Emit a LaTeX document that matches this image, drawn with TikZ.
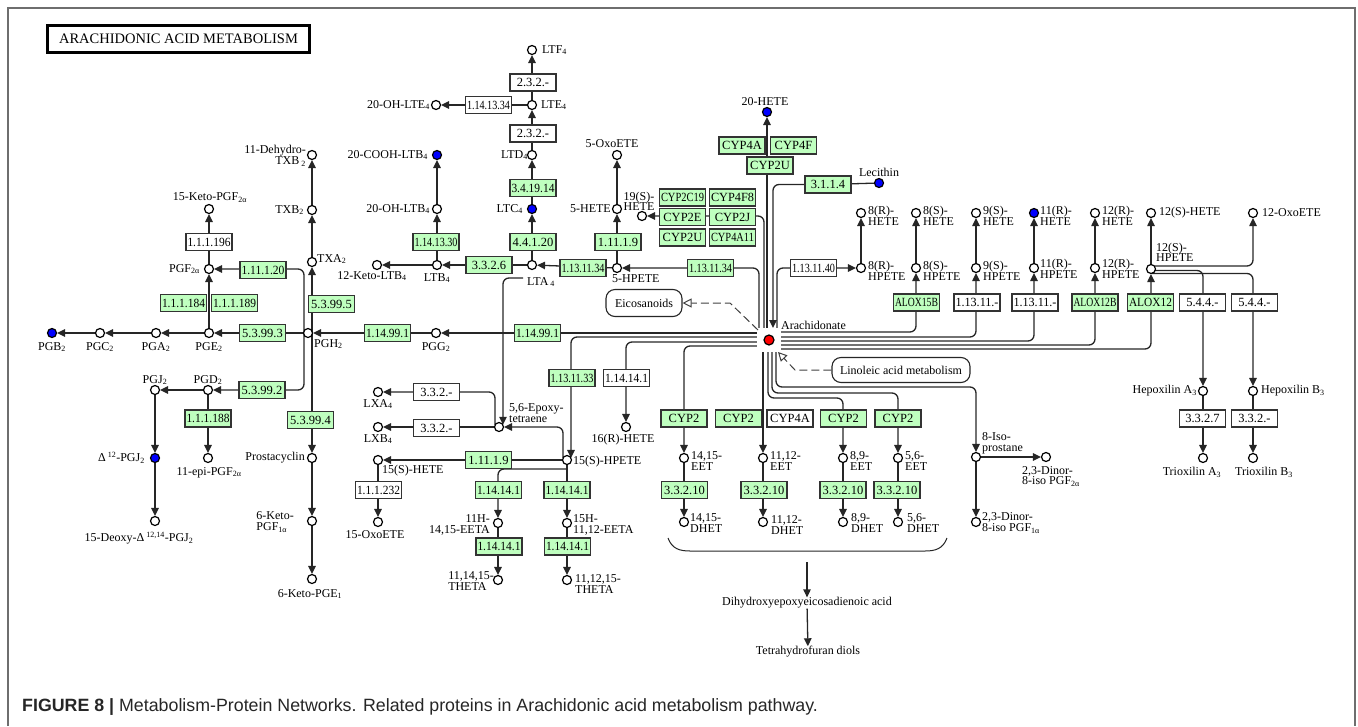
\documentclass[tikz,border=0pt]{standalone}
\usepackage{fontspec}
\setmainfont{Liberation Serif}
\newfontfamily\capfont{Liberation Sans}
\usetikzlibrary{arrows.meta,calc,backgrounds}
\definecolor{kgreen}{RGB}{191,255,191}
\definecolor{kblue}{RGB}{0,0,255}
\definecolor{kred}{RGB}{255,0,0}
\definecolor{framec}{RGB}{110,110,110}
\newsavebox\ezbox
\newcommand\ez[1]{\sbox\ezbox{#1}\ifdim\wd\ezbox>43pt\resizebox{43pt}{\ht\ezbox}{\usebox\ezbox}\else\usebox\ezbox\fi}
\newcommand\lblf{\fontsize{12}{10.8}\selectfont}
\newcommand\enzf{\fontsize{12.5}{12.5}\selectfont}
\newcommand\sbs[1]{\textsubscript{#1}}
\newcommand\sps[1]{\textsuperscript{#1}}
\tikzset{
 cpd/.style={circle, draw=black, line width=1.2pt, fill=white, minimum size=9pt, inner sep=0pt},
 cpdb/.style={cpd, fill=kblue},
 lab/.style={inner sep=0pt, font=\lblf, align=center},
 enz/.style={draw=black!80, line width=1.1pt, fill=kgreen, minimum width=46pt, minimum height=17pt, inner sep=0pt, font=\enzf},
 enzw/.style={enz, fill=white},
 conn/.style={draw=black!85, line width=1.3pt},
 arr/.style={conn, -{Triangle[length=8pt,width=7.5pt]}},
 rc/.style={rounded corners=6pt},
 dconn/.style={draw=black!75, line width=1pt, dash pattern=on 8pt off 4pt, -{Triangle[open,length=9pt,width=9pt]}},
 mapbox/.style={draw=black!85, line width=1.1pt, rounded corners=9pt, font=\lblf, inner sep=0pt},
}
\begin{document}
\begin{tikzpicture}[x=1pt,y=-1pt]
\useasboundingbox (0,0) rectangle (1358,726);
\draw[framec, line width=1.4pt] (8,726) -- (8,8) -- (1355,8) -- (1355,726);
\node[draw, line width=2.2pt, minimum width=262pt, minimum height=27pt, inner sep=0pt, font=\fontsize{14.5}{14.5}\selectfont] (title) at (178.5,39) {ARACHIDONIC ACID METABOLISM};
\node[anchor=west, inner sep=0pt, text=black!85, font=\capfont\fontsize{17.8}{17.8}\selectfont] (cap) at (22,707) {\textbf{FIGURE 8 |} Metabolism-Protein Networks. Related proteins in Arachidonic acid metabolism pathway.};

% ---------- compounds ----------
\node[cpd] (dtxb) at (312,155) {};
\node[cpd] (txb) at (312,210) {};
\node[cpd] (txa) at (312,262) {};
\node[cpd] (kpgf) at (209,209) {};
\node[cpd] (pgf) at (209,269) {};
\node[cpd] (pge) at (209,333) {};
\node[cpd] (pga) at (156,333) {};
\node[cpd] (pgc) at (100,333) {};
\node[cpdb] (pgb) at (52,333) {};
\node[cpd] (pgh) at (308,333) {};
\node[cpd] (pgd) at (208,390) {};
\node[cpd] (pgj) at (155,390) {};
\node[cpdb] (dpgj) at (155,458) {};
\node[cpd] (ddpgj) at (155,521) {};
\node[cpd] (epgf) at (208,458) {};
\node[cpd] (pgi) at (312,458) {};
\node[cpd] (kpgfa) at (312,521) {};
\node[cpd] (kpge) at (312,579) {};
\node[cpd] (pgg) at (436,333) {};
\node[cpd] (ltf) at (532,50) {};
\node[cpd] (lte) at (532,105) {};
\node[cpd] (ohlte) at (436,105) {};
\node[cpd] (ltd) at (532,155) {};
\node[cpdb] (ltc) at (532,209) {};
\node[cpdb] (cooh) at (437,155) {};
\node[cpd] (ohltb) at (437,209) {};
\node[cpd] (ltb) at (437,265) {};
\node[cpd] (kltb) at (377,265) {};
\node[cpd] (lta) at (532,265) {};
\node[cpd] (oxof) at (617,155) {};
\node[cpd] (hetef) at (617,209) {};
\node[cpd] (hpetef) at (617,268) {};
\node[cpd] (hetes) at (642,216) {};
\node[cpdb] (hetet) at (767,112) {};
\node[cpdb] (lec) at (879,183) {};
\node[cpd] (epox) at (499,427) {};
\node[cpd] (lxa) at (378,392) {};
\node[cpd] (lxb) at (378,427) {};
\node[cpd] (hpeteo) at (567,460) {};
\node[cpd] (heteo) at (378,460) {};
\node[cpd] (oxoo) at (378,522) {};
\node[cpd] (hetex) at (626,427) {};
\node[cpd] (eetaa) at (498,523) {};
\node[cpd] (eetab) at (567,523) {};
\node[cpd] (thetaa) at (498,580) {};
\node[cpd] (thetab) at (567,580) {};
\node[cpd] (hete8r) at (861,213) {};
\node[cpd] (hpete8r) at (861,268) {};
\node[cpd] (hete8s) at (916,213) {};
\node[cpd] (hpete8s) at (916,268) {};
\node[cpd] (hete9s) at (976,213) {};
\node[cpd] (hpete9s) at (976,268) {};
\node[cpdb] (hete11r) at (1034,213) {};
\node[cpd] (hpete11r) at (1034,268) {};
\node[cpd] (hete12r) at (1095,213) {};
\node[cpd] (hpete12r) at (1095,268) {};
\node[cpd] (hete12s) at (1151,213) {};
\node[cpd] (hpete12s) at (1151,269) {};
\node[cpd] (oxotw) at (1253,213) {};
\node[cpd] (hxa) at (1203,391) {};
\node[cpd] (hxb) at (1253,391) {};
\node[cpd] (trxa) at (1203,458) {};
\node[cpd] (trxb) at (1253,458) {};
\node[cpd] (eeta) at (684,458) {};
\node[cpd] (eetb) at (763,458) {};
\node[cpd] (eetc) at (843,458) {};
\node[cpd] (eetd) at (898,458) {};
\node[cpd] (dheta) at (684,522) {};
\node[cpd] (dhetb) at (763,522) {};
\node[cpd] (dhetc) at (843,522) {};
\node[cpd] (dhetd) at (898,522) {};
\node[cpd] (isop) at (976,457) {};
\node[cpd] (dinorb) at (1046,457) {};
\node[cpd] (dinora) at (976,522) {};
\node[fill=white, minimum size=24pt, inner sep=0pt] (arabg) at (769,340) {};
\node[cpd, fill=kred, minimum size=10pt] (ara) at (769,340) {};

% ---------- enzymes ----------
\node[enzw] (e196) at (209,242) {\ez{1.1.1.196}};
\node[enz] (e11120) at (263,270) {\ez{1.11.1.20}};
\node[enz] (e184) at (183.5,303) {\ez{1.1.1.184}};
\node[enz] (e189) at (234.5,303) {\ez{1.1.1.189}};
\node[enz] (e5993) at (262.5,333) {\ez{5.3.99.3}};
\node[enz] (e5995) at (331.5,304) {\ez{5.3.99.5}};
\node[enz] (e5992) at (262,390) {\ez{5.3.99.2}};
\node[enz] (e188) at (208,418.5) {\ez{1.1.1.188}};
\node[enz] (e5994) at (310.5,420) {\ez{5.3.99.4}};
\node[enz] (pgsa) at (387.5,333) {\ez{1.14.99.1}};
\node[enz] (pgsb) at (537.5,333) {\ez{1.14.99.1}};
\node[enzw] (ggta) at (533,82.5) {\ez{2.3.2.-}};
\node[enzw] (ohla) at (488.5,105) {\ez{1.14.13.34}};
\node[enzw] (ggtb) at (533,133.5) {\ez{2.3.2.-}};
\node[enz] (dpep) at (533,188) {\ez{3.4.19.14}};
\node[enz] (ohlb) at (436,242) {\ez{1.14.13.30}};
\node[enz] (ltcs) at (533,242) {\ez{4.4.1.20}};
\node[enz] (gpxa) at (618,242) {\ez{1.11.1.9}};
\node[enz] (ltah) at (489,265) {\ez{3.3.2.6}};
\node[enz] (loxa) at (583,268) {\ez{1.13.11.34}};
\node[enz] (loxb) at (710.5,268) {\ez{1.13.11.34}};
\node[enz] (cypa) at (682.5,197.5) {\ez{CYP2C19}};
\node[enz] (cypb) at (732.5,197.5) {\ez{CYP4F8}};
\node[enz] (cypc) at (682.5,217) {\ez{CYP2E}};
\node[enz] (cypd) at (732.5,217) {\ez{CYP2J}};
\node[enz] (cype) at (682.5,237.5) {\ez{CYP2U}};
\node[enz] (cypf) at (732.5,237.5) {\ez{CYP4A11}};
\node[enz] (cypg) at (742,145.5) {\ez{CYP4A}};
\node[enz] (cyph) at (793.5,145.5) {\ez{CYP4F}};
\node[enz] (cypi) at (770,165.5) {\ez{CYP2U}};
\node[enz] (plab) at (828,184.5) {\ez{3.1.1.4}};
\node[enzw] (loxc) at (813.5,268) {\ez{1.13.11.40}};
\node[enz] (aloxa) at (916.5,302.5) {\ez{ALOX15B}};
\node[enzw] (loxd) at (977,302.5) {\ez{1.13.11.-}};
\node[enzw] (loxe) at (1035,302.5) {\ez{1.13.11.-}};
\node[enz] (aloxb) at (1095,302.5) {\ez{ALOX12B}};
\node[enz] (aloxc) at (1150.5,302.5) {\ez{ALOX12}};
\node[enzw] (hxsa) at (1202.5,302.5) {\ez{5.4.4.-}};
\node[enzw] (hxsb) at (1254.5,302.5) {\ez{5.4.4.-}};
\node[enzw] (hxha) at (1202.5,418.5) {\ez{3.3.2.7}};
\node[enzw] (hxhb) at (1254.5,418.5) {\ez{3.3.2.-}};
\node[enzw] (lxha) at (436.5,392) {\ez{3.3.2.-}};
\node[enzw] (lxhb) at (436.5,428) {\ez{3.3.2.-}};
\node[enz] (loxf) at (572,378) {\ez{1.13.11.33}};
\node[enzw] (cypw) at (626.5,378) {\ez{1.14.14.1}};
\node[enz] (gpxb) at (488.5,460) {\ez{1.11.1.9}};
\node[enzw] (hdh) at (378.5,490) {\ez{1.1.1.232}};
\node[enz] (cypj) at (498.5,490) {\ez{1.14.14.1}};
\node[enz] (cypk) at (567,490) {\ez{1.14.14.1}};
\node[enz] (cypl) at (499,546.5) {\ez{1.14.14.1}};
\node[enz] (cypm) at (567.5,546.5) {\ez{1.14.14.1}};
\node[enz] (cpa) at (684,418.5) {\ez{CYP2}};
\node[enz] (cpb) at (738.5,418.5) {\ez{CYP2}};
\node[enzw] (cpc) at (790,418.5) {\ez{CYP4A}};
\node[enz] (cpd) at (843.5,418.5) {\ez{CYP2}};
\node[enz] (cpe) at (898,418.5) {\ez{CYP2}};
\node[enz] (seha) at (684.5,490) {\ez{3.3.2.10}};
\node[enz] (sehb) at (764,490) {\ez{3.3.2.10}};
\node[enz] (sehc) at (843,490) {\ez{3.3.2.10}};
\node[enz] (sehd) at (897,490) {\ez{3.3.2.10}};
\node[mapbox, minimum width=76pt, minimum height=27pt] (eico) at (644,303) {Eicosanoids};
\node[mapbox, minimum width=138pt, minimum height=25pt] (lino) at (901,370) {Linoleic acid metabolism};

% ---------- labels ----------
\node[lab, anchor=east, align=right] (ldtxb) at (306,156) {11-Dehydro-\\TXB\,\sbs{2}};
\node[lab, anchor=east] (ltxb) at (304,210) {TXB\sbs{2}};
\node[lab, anchor=west] (ltxa) at (317,259) {TXA\sbs{2}};
\node[lab, anchor=south] (lkpgf) at (210,203) {15-Keto-PGF\sbs{2α}};
\node[lab, anchor=east] (lpgf) at (200,269) {PGF\sbs{2α}};
\node[lab, anchor=north] (lpge) at (209,342) {PGE\sbs{2}};
\node[lab, anchor=north] (lpga) at (156,342) {PGA\sbs{2}};
\node[lab, anchor=north] (lpgc) at (100,342) {PGC\sbs{2}};
\node[lab, anchor=north] (lpgb) at (52,342) {PGB\sbs{2}};
\node[lab, anchor=north west] (lpgh) at (314,339) {PGH\sbs{2}};
\node[lab, anchor=south] (lpgd) at (208,385) {PGD\sbs{2}};
\node[lab, anchor=south] (lpgj) at (155,385) {PGJ\sbs{2}};
\node[lab, anchor=east] (ldpgj) at (145,458) {Δ\,\sps{12}-PGJ\sbs{2}};
\node[lab, anchor=north] (lddpgj) at (139,532) {15-Deoxy-Δ\,\sps{12,14}-PGJ\sbs{2}};
\node[lab, anchor=north] (lepgf) at (209,467) {11-epi-PGF\sbs{2α}};
\node[lab, anchor=east] (lpgi) at (305,458) {Prostacyclin};
\node[lab, anchor=east, align=left] (lkpgfa) at (294,522) {6-Keto-\\PGF\sbs{1α}};
\node[lab, anchor=north] (lkpge) at (310,589) {6-Keto-PGE\sbs{1}};
\node[lab, anchor=north] (lpgg) at (436,342) {PGG\sbs{2}};
\node[lab, anchor=west] (lltf) at (542,50) {LTF\sbs{4}};
\node[lab, anchor=west] (llte) at (541,105) {LTE\sbs{4}};
\node[lab, anchor=east] (lohlte) at (430,105) {20-OH-LTE\sbs{4}};
\node[lab, anchor=east] (lltd) at (528,155) {LTD\sbs{4}};
\node[lab, anchor=east] (lltc) at (523,209) {LTC\sbs{4}};
\node[lab, anchor=east] (lcooh) at (428,155) {20-COOH-LTB\sbs{4}};
\node[lab, anchor=east] (lohltb) at (430,209) {20-OH-LTB\sbs{4}};
\node[lab, anchor=north] (lltb) at (437,273) {LTB\sbs{4}};
\node[lab, anchor=north] (lkltb) at (372,271) {12-Keto-LTB\sbs{4}};
\node[lab, anchor=north west] (llta) at (527,277) {LTA\,\sbs{4}};
\node[lab, anchor=south] (loxof) at (612,148) {5-OxoETE};
\node[lab, anchor=east] (lhetef) at (611,209) {5-HETE};
\node[lab, anchor=south] (lhetes) at (639,211) {19(S)-\\HETE};
\node[lab, anchor=north west] (lhpetef) at (612,274) {5-HPETE};
\node[lab, anchor=south] (lhetet) at (765,106) {20-HETE};
\node[lab, anchor=south] (llec) at (879,177) {Lecithin};
\node[lab, anchor=west] (lara) at (781,325) {Arachidonate};
\node[lab, anchor=south west, align=left] (lepox) at (509,423) {5,6-Epoxy-\\tetraene};
\node[lab, anchor=north] (llxa) at (378,399) {LXA\sbs{4}};
\node[lab, anchor=north] (llxb) at (378,434) {LXB\sbs{4}};
\node[lab, anchor=west] (lhpeteo) at (573,462) {15(S)-HPETE};
\node[lab, anchor=north west] (lheteo) at (382,465) {15(S)-HETE};
\node[lab, anchor=north] (lhetex) at (623,434) {16(R)-HETE};
\node[lab, anchor=north] (loxoo) at (375,530) {15-OxoETE};
\node[lab, anchor=east, align=right] (leetaa) at (490,525) {11H-\\14,15-EETA};
\node[lab, anchor=west, align=left] (leetab) at (573,525) {15H-\\11,12-EETA};
\node[lab, anchor=east, align=left] (lthetaa) at (494,581) {11,14,15-\\THETA};
\node[lab, anchor=west, align=left] (lthetab) at (575,584) {11,12,15-\\THETA};
\node[lab, anchor=west, align=left] (lhete8r) at (868,216) {8(R)-\\HETE};
\node[lab, anchor=west, align=left] (lhete8s) at (923,216) {8(S)-\\HETE};
\node[lab, anchor=west, align=left] (lhete9s) at (983,216) {9(S)-\\HETE};
\node[lab, anchor=west, align=left] (lhete11r) at (1040,216) {11(R)-\\HETE};
\node[lab, anchor=west, align=left] (lhete12r) at (1102,216) {12(R)-\\HETE};
\node[lab, anchor=west] (lhete12s) at (1159,213) {12(S)-HETE};
\node[lab, anchor=west] (loxotw) at (1262,213) {12-OxoETE};
\node[lab, anchor=west, align=left] (lhpete8r) at (868,271) {8(R)-\\HPETE};
\node[lab, anchor=west, align=left] (lhpete8s) at (923,271) {8(S)-\\HPETE};
\node[lab, anchor=west, align=left] (lhpete9s) at (983,271) {9(S)-\\HPETE};
\node[lab, anchor=west, align=left] (lhpete11r) at (1040,269) {11(R)-\\HPETE};
\node[lab, anchor=west, align=left] (lhpete12r) at (1102,269) {12(R)-\\HPETE};
\node[lab, anchor=south west, align=left] (lhpete12s) at (1156,262) {12(S)-\\HPETE};
\node[lab, anchor=east] (lhxa) at (1197,391) {Hepoxilin A\sbs{3}};
\node[lab, anchor=west] (lhxb) at (1261,391) {Hepoxilin B\sbs{3}};
\node[lab, anchor=north] (ltrxa) at (1192,467) {Trioxilin A\sbs{3}};
\node[lab, anchor=north] (ltrxb) at (1264,467) {Trioxilin B\sbs{3}};
\node[lab, anchor=west, align=left] (leeta) at (691,461) {14,15-\\EET};
\node[lab, anchor=west, align=left] (leetb) at (770,461) {11,12-\\EET};
\node[lab, anchor=west, align=left] (leetc) at (850,461) {8,9-\\EET};
\node[lab, anchor=west, align=left] (leetd) at (905,461) {5,6-\\EET};
\node[lab, anchor=west, align=left] (ldheta) at (690,523) {14,15-\\DHET};
\node[lab, anchor=west, align=left] (ldhetb) at (771,525) {11,12-\\DHET};
\node[lab, anchor=west, align=left] (ldhetc) at (851,523) {8,9-\\DHET};
\node[lab, anchor=west, align=left] (ldhetd) at (907,523) {5,6-\\DHET};
\node[lab, anchor=west, align=left] (lisop) at (982,443) {8-Iso-\\prostane};
\node[lab, anchor=north west, align=left] (ldinorb) at (1022,466) {2,3-Dinor-\\8-iso PGF\sbs{2α}};
\node[lab, anchor=west, align=left] (ldinora) at (982,523) {2,3-Dinor-\\8-iso PGF\sbs{1α}};
\node[lab] (dihyd) at (807,603) {Dihydroxyepoxyeicosadienoic acid};
\node[lab] (thf) at (808,652) {Tetrahydrofuran diols};

% ---------- helper coordinates ----------
\coordinate (eicobend) at (730,303);
\coordinate (linobend) at (795,370);
\coordinate (b2) at (843,398);
\coordinate (b3) at (898,393);
\coordinate (b4) at (976,387);
\coordinate (bra) at (668,538);
\coordinate (brb) at (690,551);
\coordinate (brc) at (925,551);
\coordinate (brd) at (947,538);
\coordinate (dstart) at (807,562);

% dashed map links
\draw[dconn] ($(ara)+(-11,-10)$) -- (eicobend) -- (eico.east);
\draw[dconn] (lino.west) -- (linobend) -- ($(ara)+(9,12)$);

\begin{pgfonlayer}{background}
% prostaglandins
\draw[arr] (txb) -- (dtxb);
\draw[arr] (txa) -- (txb);
\draw[arr] ([xshift=4pt]pgh.center) -- (txa);
\draw[arr] ([xshift=4pt]pgh.center) -- (pgi);
\draw[arr, rc] ([xshift=-4pt]pgh.center) |- (pgf);
\draw[arr, rc] ([xshift=-4pt]pgh.center) |- (pgd);
\draw[arr] (pgh) -- (pge);
\draw[arr] (pgg) -- (pgh);
\draw[arr] (pge) -- (pgf);
\draw[arr] (pgf) -- (kpgf);
\draw[arr] (pge) -- (pga);
\draw[arr] (pga) -- (pgc);
\draw[arr] (pgc) -- (pgb);
\draw[arr] (pgd) -- (pgj);
\draw[arr] (pgj) -- (dpgj);
\draw[arr] (dpgj) -- (ddpgj);
\draw[arr] (pgd) -- (epgf);
\draw[arr] (pgi) -- (kpgfa);
\draw[arr] (kpgfa) -- (kpge);
% from arachidonate, left side
\draw[arr] ($(ara)+(-10,-7)$) -- (pgg);
\draw[arr, rc] ($(ara)+(-10,-3)$) -| ($(hpeteo)+(4,-2.1)$);
\draw[arr, rc] ($(ara)+(-10,2)$) -| (hetex);
\draw[arr, rc] ($(ara)+(-10,6)$) -| (eeta);
% top side
\draw[arr, rc] ($(ara)+(-10,-12)$) |- (hpetef);
\draw[arr, rc] ($(ara)+(-5,-12)$) |- (hetes);
\draw[arr] ($(ara)+(-2,-12)$) -- (hetet);
\draw[conn] (lec) -- (plab);
\draw[arr, rc] (plab.west) -| ($(ara)+(4,-12)$);
\draw[arr, rc] ($(ara)+(8,-12)$) |- (hpete8r);
% right side
\draw[arr, rc] ($(ara)+(12,-8)$) -| (hpete8s);
\draw[arr, rc] ($(ara)+(12,-3)$) -| (hpete9s);
\draw[arr, rc] ($(ara)+(12,1)$) -| (hpete11r);
\draw[arr, rc] ($(ara)+(12,5)$) -| (hpete12r);
\draw[arr, rc] ($(ara)+(12,9)$) -| (hpete12s);
% bottom side
\draw[arr] ($(ara)+(-6,12)$) -- (eetb);
\draw[arr, rc] ($(ara)+(-1,12)$) |- (b2) -- (eetc);
\draw[arr, rc] ($(ara)+(3,12)$) |- (b3) -- (eetd);
\draw[arr, rc] ($(ara)+(7,12)$) |- (b4) -- (isop);
% leukotrienes
\draw[arr] (hpetef) -- (lta);
\draw[arr] (hpetef) -- (hetef);
\draw[arr] (hetef) -- (oxof);
\draw[arr] (lta) -- (ltb);
\draw[arr] (ltb) -- (kltb);
\draw[arr] (ltb) -- (ohltb);
\draw[arr] (ohltb) -- (cooh);
\draw[arr] (lta) -- (ltc);
\draw[arr] (ltc) -- (ltd);
\draw[arr] (ltd) -- (lte);
\draw[arr] (lte) -- (ltf);
\draw[arr] (lte) -- (ohlte);
\draw[arr, rc] ($(lta)+(-9,13)$) -| ($(epox)+(4,-2.2)$);
\draw[arr, rc] ($(hpeteo)+(-4,-2.1)$) |- (epox);
\draw[arr, rc] ($(epox)+(-4,-2.2)$) |- (lxa);
\draw[arr] (epox) -- (lxb);
\draw[arr] (hpeteo) -- (heteo);
\draw[arr] (heteo) -- (oxoo);
\draw[arr, rc] ($(hpeteo)+(0,9)$) -| (eetaa);
\draw[arr] (hpeteo) -- (eetab);
\draw[arr] (eetaa) -- (thetaa);
\draw[arr] (eetab) -- (thetab);
% HETEs
\draw[arr] (hpete8r) -- (hete8r);
\draw[arr] (hpete8s) -- (hete8s);
\draw[arr] (hpete9s) -- (hete9s);
\draw[arr] (hpete11r) -- (hete11r);
\draw[arr] (hpete12r) -- (hete12r);
\draw[arr] (hpete12s) -- (hete12s);
\draw[arr, rc] ($(hpete12s)+(4,-3)$) -| (oxotw);
\draw[arr, rc] ($(hpete12s)+(4,1.5)$) -| (hxa);
\draw[arr, rc] ($(hpete12s)+(1,4.5)$) -| (hxb);
\draw[arr] (hxa) -- (trxa);
\draw[arr] (hxb) -- (trxb);
% EETs
\draw[arr] (eeta) -- (dheta);
\draw[arr] (eetb) -- (dhetb);
\draw[arr] (eetc) -- (dhetc);
\draw[arr] (eetd) -- (dhetd);
\draw[arr] (isop) -- (dinorb);
\draw[arr] (isop) -- (dinora);
\draw[draw=black!85, line width=1pt] (bra) .. controls ($(bra)+(4,11)$) and ($(brb)+(-10,0)$) .. (brb) -- (brc) .. controls ($(brc)+(10,0)$) and ($(brd)+(-4,11)$) .. (brd);
\draw[arr] (dstart) -- (dihyd);
\draw[arr] (dihyd) -- (thf);
\end{pgfonlayer}
\end{tikzpicture}
\end{document}
